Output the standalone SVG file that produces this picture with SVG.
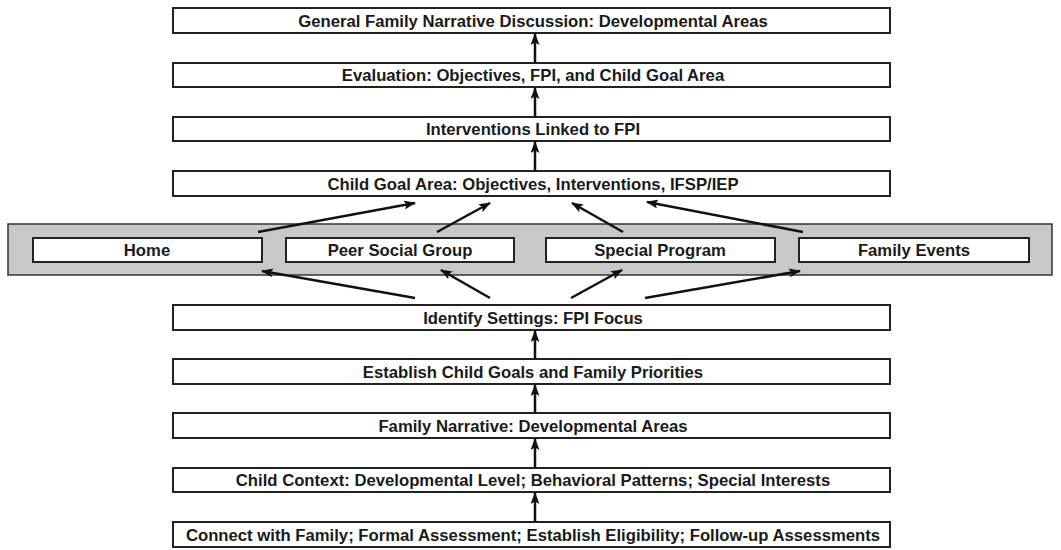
<svg xmlns="http://www.w3.org/2000/svg" width="1061" height="550" viewBox="0 0 1061 550">
<defs>
<marker id="ah" markerWidth="12" markerHeight="9" refX="11" refY="4.5" orient="auto" markerUnits="userSpaceOnUse">
<path d="M0,0 L12,4.5 L0,9 L2.5,4.5 Z" fill="#111"/>
</marker>
<style>
.box{fill:#fff;stroke:#222;stroke-width:2}
.band{fill:#c8c8c8;stroke:#333;stroke-width:1.5}
.t{font-family:"Liberation Sans",Arial,sans-serif;font-weight:bold;font-size:16.7px;fill:#1a1a1a;text-anchor:middle;dominant-baseline:central}
.c{stroke:#111;stroke-width:2.5;fill:none;marker-end:url(#ah)}
</style>
</defs>
<rect width="1061" height="550" fill="#fff"/>
<g id="band"><rect class="band" x="8" y="224" width="1044" height="51"/></g>
<g id="n1"><rect class="box" x="173" y="8" width="717" height="25"/><text class="t" x="533" y="21">General Family Narrative Discussion: Developmental Areas</text></g>
<g id="n2"><rect class="box" x="173" y="63" width="717" height="24"/><text class="t" x="533" y="75">Evaluation: Objectives, FPI, and Child Goal Area</text></g>
<g id="n3"><rect class="box" x="173" y="117" width="717" height="24"/><text class="t" x="533" y="129">Interventions Linked to FPI</text></g>
<g id="n4"><rect class="box" x="173" y="171" width="717" height="25"/><text class="t" x="533" y="184">Child Goal Area: Objectives, Interventions, IFSP/IEP</text></g>
<g id="s1"><rect class="box" x="33" y="238" width="229" height="24"/><text class="t" x="147" y="250">Home</text></g>
<g id="s2"><rect class="box" x="286" y="238" width="228" height="24"/><text class="t" x="400" y="250">Peer Social Group</text></g>
<g id="s3"><rect class="box" x="546" y="238" width="229" height="24"/><text class="t" x="660" y="250">Special Program</text></g>
<g id="s4"><rect class="box" x="799" y="238" width="230" height="24"/><text class="t" x="914" y="250">Family Events</text></g>
<g id="n5"><rect class="box" x="173" y="305" width="717" height="25"/><text class="t" x="533" y="318">Identify Settings: FPI Focus</text></g>
<g id="n6"><rect class="box" x="173" y="359" width="717" height="25"/><text class="t" x="533" y="372">Establish Child Goals and Family Priorities</text></g>
<g id="n7"><rect class="box" x="173" y="413" width="717" height="25"/><text class="t" x="533" y="426">Family Narrative: Developmental Areas</text></g>
<g id="n8"><rect class="box" x="173" y="468" width="717" height="24"/><text class="t" x="533" y="480">Child Context: Developmental Level; Behavioral Patterns; Special Interests</text></g>
<g id="n9"><rect class="box" x="173" y="522" width="717" height="25"/><text class="t" x="533" y="535">Connect with Family; Formal Assessment; Establish Eligibility; Follow-up Assessments</text></g>
<g id="connectors">
<line class="c" x1="535" y1="522" x2="535" y2="493"/>
<line class="c" x1="535" y1="468" x2="535" y2="439"/>
<line class="c" x1="535" y1="413" x2="535" y2="385"/>
<line class="c" x1="535" y1="359" x2="535" y2="331"/>
<line class="c" x1="535" y1="171" x2="535" y2="142"/>
<line class="c" x1="535" y1="117" x2="535" y2="88"/>
<line class="c" x1="535" y1="63" x2="535" y2="34"/>
<line class="c" x1="415" y1="298" x2="262" y2="271"/>
<line class="c" x1="490" y1="298" x2="441" y2="270"/>
<line class="c" x1="571" y1="298" x2="622" y2="270"/>
<line class="c" x1="645" y1="298" x2="800" y2="271"/>
<line class="c" x1="258" y1="232" x2="415" y2="203"/>
<line class="c" x1="437" y1="232" x2="490" y2="203"/>
<line class="c" x1="623" y1="232" x2="572" y2="203"/>
<line class="c" x1="803" y1="232" x2="647" y2="202"/>
</g>
</svg>
